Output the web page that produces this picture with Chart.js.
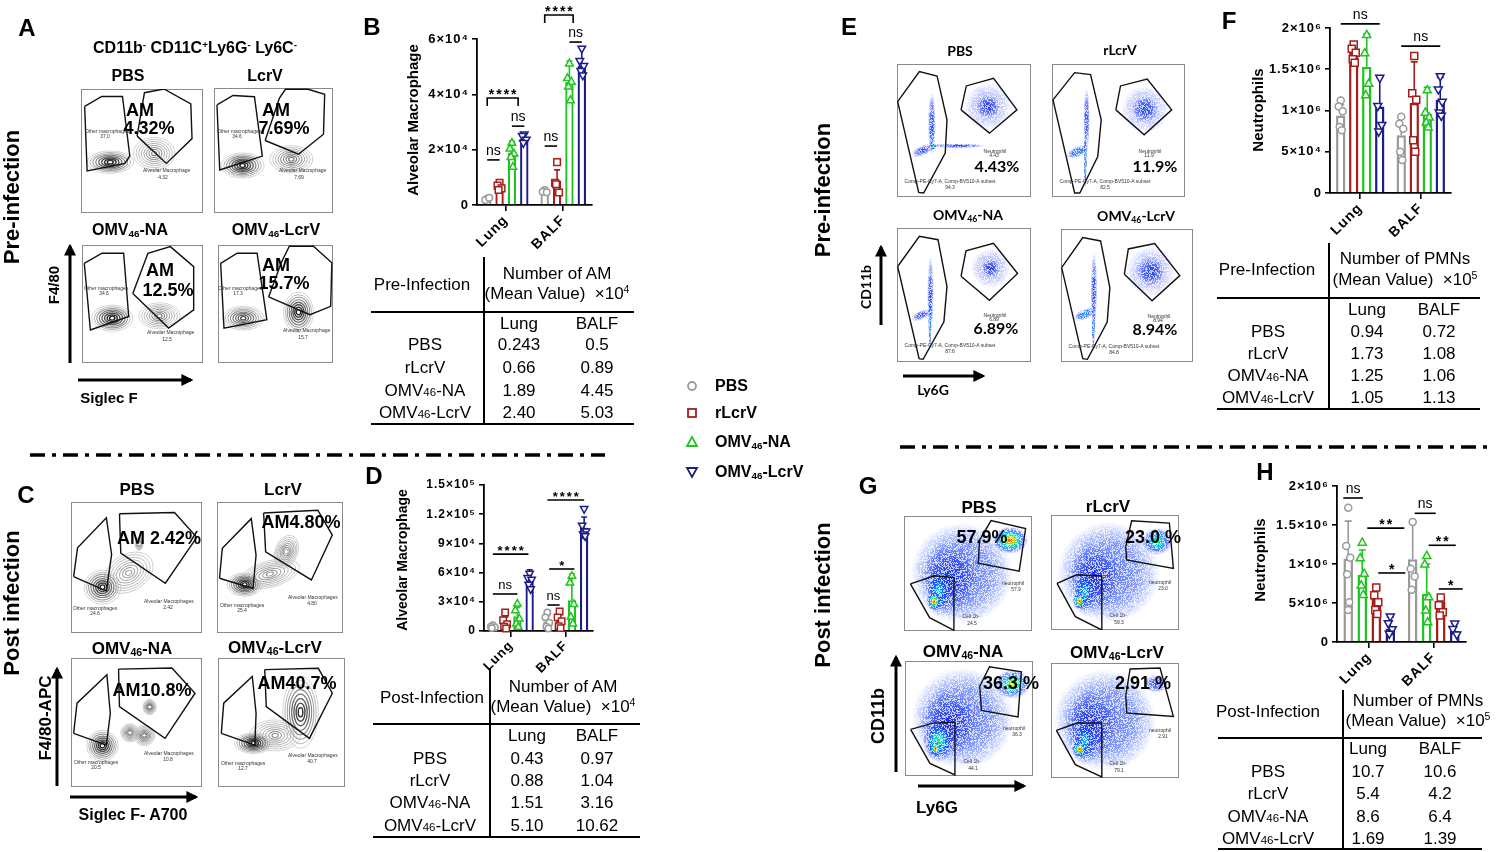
<!DOCTYPE html>
<html><head><meta charset="utf-8">
<script src="https://cdn.jsdelivr.net/npm/chart.js@4.4.1/dist/chart.umd.min.js"></script>
<style>
html,body{margin:0;padding:0}
body{width:1500px;height:852px;position:relative;overflow:hidden;background:#fff;font-family:"Liberation Sans",Arial,Helvetica,sans-serif;color:#000}
.t{position:absolute;white-space:nowrap;line-height:1;transform:translate(-50%,-50%)}
.tl{position:absolute;white-space:nowrap;line-height:1;transform:translate(0,-50%)}
.rot{position:absolute;white-space:nowrap;line-height:1;transform:translate(-50%,-50%) rotate(-90deg)}
canvas{position:absolute}
.box{position:absolute;border:1px solid #8a8a8a;box-sizing:border-box}
.hl{position:absolute;background:#000}
sub{font-size:0.62em;vertical-align:-0.25em;line-height:0}
sup{font-size:0.62em;vertical-align:0.5em;line-height:0}
.sm{font-size:0.68em}
</style></head><body>
<svg id="deco" width="1500" height="852" style="position:absolute;left:0;top:0;z-index:5;pointer-events:none">
<defs><marker id="ah" markerWidth="4" markerHeight="4" refX="3.2" refY="2" orient="auto"><path d="M0,0 L4,2 L0,4 z" fill="#000"/></marker></defs>
<g stroke="#000" stroke-width="3">
<line x1="70" y1="363" x2="70" y2="246" marker-end="url(#ah)"/>
<line x1="78" y1="380" x2="191" y2="380" marker-end="url(#ah)"/>
<line x1="57" y1="786" x2="57" y2="669" marker-end="url(#ah)"/>
<line x1="70" y1="797" x2="196" y2="797" marker-end="url(#ah)"/>
<line x1="881" y1="325" x2="881" y2="247" marker-end="url(#ah)"/>
<line x1="903" y1="376" x2="983" y2="376" marker-end="url(#ah)"/>
<line x1="896" y1="772" x2="896" y2="657" marker-end="url(#ah)"/>
<line x1="918" y1="786" x2="1024" y2="786" marker-end="url(#ah)"/>
</g>
<line x1="30" y1="455" x2="605" y2="455" stroke="#000" stroke-width="3.5" stroke-dasharray="15 7 4 7"/>
<line x1="900" y1="447" x2="1490" y2="447" stroke="#000" stroke-width="3.5" stroke-dasharray="15 7 4 7"/>
<g fill="#fff" stroke-width="1.8">
<circle cx="692" cy="386" r="4" stroke="#9a9a9a"/>
<rect x="688" y="409" width="8" height="8" stroke="#a81c1c"/>
<path d="M692,437 L697,446 L687,446 Z" stroke="#1fc41f"/>
<path d="M692,477 L697,468 L687,468 Z" stroke="#1c1c8a"/>
</g>
</svg>
<script>
const FF = '"Liberation Sans", Arial, sans-serif';
const GROUPS = ['PBS','rLcrV','OMV46-NA','OMV46-LcrV'];
const GROUP_HTML = ['PBS','rLcrV','OMV<sub>46</sub>-NA','OMV<sub>46</sub>-LcrV'];
const GROUP_TAB = ['PBS','rLcrV','OMV<span class="sm">46</span>-NA','OMV<span class="sm">46</span>-LcrV'];
const TISSUES = ['Lung','BALF'];
const COLORS = ['#9a9a9a','#a81c1c','#1fc41f','#1c1c8a'];

// ---------- Panel B (pre-infection AM), per group: [Lung, BALF]
const bMean = [[2430,5000],[6600,8900],[18900,44500],[24000,50300]];
const bSD   = [[300,500],[1500,3800],[4200,7500],[1700,6500]];
const bPts  = [
  [[2200,1800,2600],[5400,4800,4600]],
  [[8000,7000,6000,5400],[15500,8000,4500,7500]],
  [[22600,20500,18700,17500,13900],[51300,46000,44700,42900,38000]],
  [[25400,24800,23500,22300],[56400,51900,50100,48300,46700]]
];
const bTicks = [0,20000,40000,60000];
const bTickLab = ['0','2×10⁴','4×10⁴','6×10⁴'];
const bSig = [[0,0,1,16300,'ns',0],[0,0,2.5,38700,'****',1],[0,2,3,28500,'ns',0],[1,0,1,21300,'ns',0],[1,0,2.3,68700,'****',1],[1,2,3,58900,'ns',0]];

// ---------- Panel D (post-infection AM)
const dMean = [[4300,9700],[8800,10400],[15100,31600],[51000,106200]];
const dSD   = [[1500,6000],[5500,6500],[9000,27000],[12000,11000]];
const dPts  = [
  [[6000,4500,3700,3000],[19000,14000,8500,4500,2500]],
  [[19000,11000,7000,4500,2500],[20000,14000,10000,5000,3000]],
  [[28400,21600,13000,7900,4500],[57000,50000,28000,15000,8000]],
  [[58600,54100,52400,47300,42600],[125000,108000,102000,99000,97000]]
];
const dTicks = [0,30000,60000,90000,120000,150000];
const dTickLab = ['0','3×10⁴','6×10⁴','9×10⁴','1.2×10⁵','1.5×10⁵'];
const dSig = [[0,0,2,38000,'ns',0],[0,0,2.9,79000,'****',0],[1,0,1,26700,'ns',0],[1,0.15,2.2,63700,'*',0],[1,0,3,134600,'****',0]];

// ---------- Panel F (pre-infection neutrophils)
const fMean = [[940000,700000],[1700000,1090000],[1530000,960000],[1050000,1130000]];
const fSD   = [[130000,230000],[120000,500000],[400000,320000],[350000,270000]];
const fPts  = [
  [[1120000,1050000,990000,800000,760000],[925000,840000,780000,500000,400000]],
  [[1800000,1750000,1700000,1620000,1580000],[1660000,1210000,1130000,640000,500000]],
  [[1920000,1700000,1330000,1190000],[1250000,980000,920000,860000,800000]],
  [[1390000,1050000,820000,740000],[1410000,1250000,1100000,970000,930000]]
];
const fTicks = [0,500000,1000000,1500000,2000000];
const fTickLab = ['0','5×10⁴','1×10⁶','1.5×10⁶','2×10⁶'];
const fSig = [[0,0,3,2050000,'ns',0],[1,0,3,1780000,'ns',0]];

// ---------- Panel H (post-infection neutrophils), drawn order PBS, OMV-NA, rLcrV, OMV-LcrV
const hMean = [[1070000,1060000],[560000,520000],[860000,620000],[170000,140000]];
const hSD   = [[480000,480000],[140000,60000],[320000,380000],[150000,95000]];
const hPts  = [
  [[1720000,1230000,1080000,870000,510000,410000],[1540000,940000,840000,670000]],
  [[700000,600000,510000,410000,360000],[570000,470000,380000,340000]],
  [[1280000,1080000,880000,730000,610000],[1110000,1000000,580000,410000,260000]],
  [[320000,235000,158000,100000],[230000,160000,90000]]
];
const hOrder = [0,2,1,3];
const hTicks = [0,500000,1000000,1500000,2000000];
const hTickLab = ['0','5×10⁶','1×10⁶','1.5×10⁶','2×10⁶'];
const hSig = [[0,-0.35,1.05,1846000,'ns',0],[0,1.36,4.0,1460000,'**',0],[0,2.14,4.07,885000,'*',0],[1,0.14,1.64,1650000,'ns',0],[1,1.14,3.07,1240000,'**',0],[1,1.86,3.57,680000,'*',0]];

// ---------- Tables (mean values)
const bTable = [['0.243','0.5'],['0.66','0.89'],['1.89','4.45'],['2.40','5.03']];
const dTable = [['0.43','0.97'],['0.88','1.04'],['1.51','3.16'],['5.10','10.62']];
const fTable = [['0.94','0.72'],['1.73','1.08'],['1.25','1.06'],['1.05','1.13']];
const hTable = [['10.7','10.6'],['5.4','4.2'],['8.6','6.4'],['1.69','1.39']];

// ---------- Flow gates (relative 0-100 units) and populations
const aGates = [
 [[[3,86],[17,94],[34,94],[40,46],[36,40],[5,34]], [[46,62],[52,97],[68,100],[90,88],[91,60],[70,40]]],
 [[[2.5,86.5],[16,94],[34,93],[40.6,45.5],[4.8,34.4]], [[43,58],[55,92],[60,99],[79,99],[93,95],[92,63],[71,47]]],
 [[[1.9,84.5],[16.5,93],[34.4,93],[38.6,39.4],[6.9,28]], [[42,59],[54.5,93],[73,98.6],[92.3,81.7],[92.3,45],[71.6,29.6]]],
 [[[2.3,84.5],[16.7,93],[34,93],[42.5,36.6],[5.2,29.6]], [[44,56],[55,85],[62,99],[83,99],[99,85],[98,48],[80,41]]]
];
const aBlobs = [
 [[60,48,17,13,0.35,0],[24,41,19,9,0.95,0]],
 [[65,43,18,11,0.45,0],[24,38,18,10,1,0]],
 [[64,40,17,11,0.4,0],[25,38,17,11,1,0]],
 [[22,38,18,10,0.7,0],[70,43,13,17,1,0]]
];
const aPct = ['4.32%','7.69%','12.5%','15.7%'];
const aOther = ['37.0','34.6','34.6','17.3'];

const cGates = [
 [[[2,43],[5,65],[27,88],[31,60],[27,32]], [[37,91],[79,92],[96,73],[72,38],[38,61]]],
 [[[2,41.8],[4.2,64.6],[27.2,87.3],[31,59.5],[28.6,34]], [[37,91.6],[80,93.7],[91.5,74.7],[74.9,40.5],[38.6,62]]],
 [[[2,41.6],[4.6,65],[27.4,87],[30,57],[27,32.5]], [[36.3,91.4],[77,92.2],[94.7,72.7],[71.8,37.7],[37,62.3]]],
 [[[2.6,41.6],[4.5,65],[27,85.7],[30,57],[29,32.5]], [[36.8,91],[79,92],[90,72.7],[72,37.7],[38,62.3]]]
];
const cBlobs = [
 [[44,46,20,14,0.2,-30],[52,68,3,5,0.3,0],[24,35,14,13,0.95,0]],
 [[42,45,24,10,0.25,-15],[55,62,9,13,0.3,20],[22,37,14,9,1,0]],
 [[45,42,7,7,0.4,0],[56,40,8,8,0.45,0],[60,62,5,6,0.45,0],[24,32,12,12,1,0]],
 [[45,40,20,12,0.3,0],[65,58,14,28,0.85,0],[28,34,15,8,1,0]]
];
const cPct = ['AM 2.42%','AM4.80%','AM10.8%','AM40.7%'];
const cOther = ['24.6','25.4','20.5','12.7'];

const eGates = [
 [[[0.5,71.75],[16.7,94.25],[29.9,91],[37.3,58],[36,33],[19.9,3],[16.2,3.5]], [[47.8,65.5],[51.7,83.5],[72.1,89.25],[89.5,65.5],[69,48]]],
 [[[0.75,73],[17,93.5],[29,92],[37,58],[34.4,30.5],[20.9,3],[17,3]], [[48,65.5],[51.5,83.5],[71.6,88.75],[90,65.5],[69.3,46.75]]],
 [[[0.5,71.25],[16.7,93.75],[30.6,91.25],[37.3,56.25],[35,30],[19.5,2],[16.5,2.5]], [[47.8,64],[51.5,83],[72,88.5],[90,66],[69,46]]],
 [[[0.5,71],[16.5,93.5],[30,91],[37,56],[35,30],[20,2],[16.5,2.5]], [[48,66],[51,85],[71,89],[90,65],[69,46]]]
];
const eBlobs = [
 [[68,68,18,18,'sparse',0],[68,68,9,9,'blue',0],[26,55,3,24,'blue',0],[45,38.5,22,1.8,'blue',0],[19,35,9,4,'blue',-25],[26,48,1.5,14,'cyan',0],[27,38,2.5,2.5,'green',0]],
 [[70,66,18,18,'sparse',0],[70,66,10,10,'blue',0],[70,66,3,3,'cyan',0],[26,58,2.5,24,'blue',0],[19,34,9,4,'cyan',-25],[25,28,1.3,22,'green',0]],
 [[70,70,15,15,'sparse',0],[70,70,7,7,'blue',0],[25,50,2.5,30,'blue',0],[18,35,8,3.5,'blue',-25],[24.5,30,1.2,22,'green',0]],
 [[68,68,19,19,'sparse',0],[68,68,11,11,'blue',0],[68,68,3,3,'cyan',0],[25,55,2.5,28,'blue',0],[18,36,9,4,'cyan',-25],[24.5,30,1.3,22,'green',0]]
];
const ePct = ['4.43%','11.9%','6.89%','8.94%'];
const eSub = ['94.3','82.5','87.6','84.8'];

const gGates = [
 [[[59,79],[68,96],[95,89],[90,52],[58,59]], [[5,41],[24,48],[39,46.5],[39,0.6],[20,11.6]]],
 [[[58.4,72.5],[63,95],[92.5,93],[95.6,53.6],[59,61]], [[4.7,40.6],[20,48],[39.7,47],[39.7,0],[19,11.6]]],
 [[[58.4,78],[66,95],[90.9,90.5],[88.3,51.4],[59.7,57]], [[4.4,40.5],[22,46],[39,47],[39,0.9],[19.5,11]]],
 [[[58.4,71.6],[61.8,94.8],[85.2,95.6],[95.6,53.6],[59.2,56.5]], [[4.2,41.4],[20.3,47.8],[39.7,47.8],[39.7,0.9],[19,11.6]]]
];
const gBlobs = [
 [[45,50,40,44,'cloud',0],[35,45,22,32,'blue',0],[27,35,10,22,'cyan',0],[23.5,26,6,8,'hot',0],[83,79,14,12,'hot',0]],
 [[45,50,40,44,'cloud',0],[33,45,20,30,'blue',0],[26,33,9,20,'cyan',0],[22,25,5,7,'hot',0],[83,77,12,12,'green',0]],
 [[45,50,40,44,'cloud',0],[33,45,22,30,'blue',0],[26,30,12,18,'green',0],[24,24,5,7,'hot',0],[84,80,14,13,'yellow',0]],
 [[42,50,40,44,'cloud',0],[30,45,20,32,'blue',0],[26,32,10,20,'cyan',0],[22.3,25,6,7,'hot',0],[82,82,10,8,'blue',0]]
];
const gPct = ['57.9%','23.0 %','36.3 %','2.91 %'];
const gCell = ['24.5','59.3','44.1','79.1'];

// ---------- Layout (positions / sizes)
const LAY = {
  B:{left:397,top:0,w:205,h:250,pt:39,pr:10,wy:80,hx:45,catPct:0.86,barPct:0.68,yfs:13,xfs:14,sfs:14,mr:3.3,cap:3,bw:2.3},
  D:{left:404,top:440,w:199,h:236,pt:45,pr:10,wy:80,hx:45,catPct:0.9,barPct:0.68,yfs:12,xfs:13,sfs:13,mr:3.2,cap:3,bw:2.3},
  F:{left:1250,top:0,w:216,h:238,pt:28,pr:15,wy:80,hx:45,catPct:0.86,barPct:0.72,yfs:13,xfs:14,sfs:14,mr:3.5,cap:3.5,bw:2.5},
  H:{left:1257,top:460,w:224,h:227,pt:26,pr:15,wy:80,hx:45,catPct:0.87,barPct:0.68,yfs:13,xfs:14,sfs:14,mr:3.5,cap:3.5,bw:2.5}
};
const aBox = [[81,89,122,124],[214,88,119,125],[82,245,121,118],[218,245,115,118]];
const cBox = [[71,502,131,131],[217,502,126,131],[71,658,131,129],[218,658,127,129]];
const eBox = [[897,64,134,133],[1052,64,133,133],[897,228,134,134],[1061,229,132,133]];
const gBox = [[904,516,128,115],[1051,515,128,115],[905,661,128,115],[1051,663,128,115]];

// ---------- helpers
function T(x, y, html, css, cls) {
  const d = document.createElement('div');
  d.className = cls || 't'; d.style.left = x + 'px'; d.style.top = y + 'px';
  d.innerHTML = html; if (css) d.style.cssText += css; d.style.zIndex = 6;
  document.body.appendChild(d); return d;
}
function HL(x, y, w, h) {
  const d = document.createElement('div'); d.className = 'hl';
  d.style.cssText += `left:${x}px;top:${y}px;width:${w}px;height:${h}px`;
  document.body.appendChild(d);
}
const JIT = [0,-2,2,-1,1,0];
function marker(ctx, g, x, y, r) {
  ctx.beginPath();
  if (g === 0) ctx.arc(x, y, r, 0, Math.PI * 2);
  else if (g === 1) ctx.rect(x - r, y - r, 2 * r, 2 * r);
  else if (g === 2) { ctx.moveTo(x, y - r * 1.2); ctx.lineTo(x + r * 1.15, y + r * 0.85); ctx.lineTo(x - r * 1.15, y + r * 0.85); ctx.closePath(); }
  else { ctx.moveTo(x, y + r * 1.2); ctx.lineTo(x + r * 1.15, y - r * 0.85); ctx.lineTo(x - r * 1.15, y - r * 0.85); ctx.closePath(); }
  ctx.fillStyle = '#fff'; ctx.fill();
  ctx.strokeStyle = COLORS[g]; ctx.lineWidth = 1.5; ctx.stroke();
}

function makeBar(L, means, sds, pts, order, ticks, tickLab, sig) {
  const cv = document.createElement('canvas');
  cv.width = L.w; cv.height = L.h; cv.style.left = L.left + 'px'; cv.style.top = L.top + 'px';
  document.body.appendChild(cv);
  const ds = order.map(g => ({ label: GROUPS[g], data: means[g], backgroundColor: '#ffffff', borderColor: COLORS[g], borderWidth: L.bw, barPercentage: L.barPct, categoryPercentage: L.catPct }));
  const xAt = (chart, t, idx) => { const a = chart.getDatasetMeta(0).data[t].x, b = chart.getDatasetMeta(1).data[t].x; return a + idx * (b - a); };
  const plug = {
    id: 'extras',
    beforeDraw(chart) { chart.ctx.letterSpacing = '1px'; },
    afterDatasetsDraw(chart) {
      const ctx = chart.ctx, ys = chart.scales.y;
      ctx.save();
      order.forEach((g, i) => {
        chart.getDatasetMeta(i).data.forEach((bar, t) => {
          const x = bar.x, ym = ys.getPixelForValue(means[g][t]), yt = ys.getPixelForValue(means[g][t] + sds[g][t]);
          ctx.strokeStyle = COLORS[g]; ctx.lineWidth = 1.6;
          ctx.beginPath(); ctx.moveTo(x, ym); ctx.lineTo(x, yt); ctx.moveTo(x - L.cap, yt); ctx.lineTo(x + L.cap, yt); ctx.stroke();
          pts[g][t].forEach((v, k) => marker(ctx, g, x + JIT[k % JIT.length], ys.getPixelForValue(v), L.mr));
        });
      });
      ctx.restore();
    },
    afterDraw(chart) {
      const ctx = chart.ctx, ys = chart.scales.y;
      ctx.save(); ctx.strokeStyle = '#000'; ctx.fillStyle = '#000'; ctx.lineWidth = 1.6; ctx.textAlign = 'center'; ctx.textBaseline = 'alphabetic';
      sig.forEach(([t, a, b, v, txt, br]) => {
        const x1 = xAt(chart, t, a), x2 = xAt(chart, t, b), y = ys.getPixelForValue(v);
        ctx.beginPath();
        if (br) { ctx.moveTo(x1, y + 8); ctx.lineTo(x1, y); ctx.lineTo(x2, y); ctx.lineTo(x2, y + 8); }
        else { ctx.moveTo(x1, y); ctx.lineTo(x2, y); }
        ctx.stroke();
        const star = txt.indexOf('*') >= 0;
        ctx.font = (star ? 'bold ' : '') + L.sfs + 'px ' + FF;
        ctx.letterSpacing = star ? '2px' : '0px';
        ctx.fillText(txt, (x1 + x2) / 2 + (star ? 1 : 0), star ? y + 1 : y - 5);
      });
      ctx.restore();
    }
  };
  new Chart(cv, {
    type: 'bar', data: { labels: TISSUES, datasets: ds }, plugins: [plug],
    options: {
      responsive: false, animation: false, events: [],
      layout: { padding: { top: L.pt, right: L.pr, left: 0, bottom: 0 } },
      plugins: { legend: { display: false }, tooltip: { enabled: false } },
      scales: {
        x: { grid: { display: true, offset: false, drawOnChartArea: false, drawTicks: true, tickLength: 6, color: '#000', lineWidth: 1.6 },
             border: { display: true, color: '#000', width: 1.8 },
             ticks: { autoSkip: false, maxRotation: 45, minRotation: 45, color: '#000', padding: 1, font: { family: FF, size: L.xfs, weight: 'bold' } },
             afterFit(s) { s.height = L.hx; } },
        y: { min: 0, max: ticks[ticks.length - 1],
             afterBuildTicks(s) { s.ticks = ticks.map(v => ({ value: v })); },
             grid: { display: true, drawOnChartArea: false, drawTicks: true, tickLength: 5, color: '#000', lineWidth: 1.6 },
             border: { display: true, color: '#000', width: 1.8 },
             ticks: { color: '#000', padding: 3, font: { family: FF, size: L.yfs, weight: 'bold' }, callback: (v, i) => tickLab[i] },
             afterFit(s) { s.width = L.wy; } }
      }
    }
  });
}

const STOPS = {
  sparse: [[0,'rgba(40,60,255,0.45)'],[0.7,'rgba(60,80,255,0.25)'],[1,'rgba(80,100,255,0)']],
  cloud:  [[0,'rgba(30,60,255,0.75)'],[0.6,'rgba(40,80,255,0.55)'],[0.85,'rgba(60,100,255,0.25)'],[1,'rgba(80,110,255,0)']],
  blue:   [[0,'rgba(10,30,220,0.9)'],[0.6,'rgba(30,60,250,0.55)'],[1,'rgba(60,90,255,0)']],
  cyan:   [[0,'rgba(0,210,255,1)'],[0.45,'rgba(20,80,255,0.8)'],[1,'rgba(40,80,255,0)']],
  green:  [[0,'rgba(40,230,60,1)'],[0.3,'rgba(0,210,230,0.95)'],[0.65,'rgba(20,70,255,0.7)'],[1,'rgba(40,80,255,0)']],
  yellow: [[0,'rgba(255,230,0,1)'],[0.2,'rgba(120,230,40,1)'],[0.4,'rgba(0,210,230,0.9)'],[0.7,'rgba(20,70,255,0.6)'],[1,'rgba(40,80,255,0)']],
  hot:    [[0,'rgba(235,20,0,1)'],[0.18,'rgba(255,200,0,1)'],[0.35,'rgba(80,230,60,1)'],[0.5,'rgba(0,200,240,0.95)'],[0.75,'rgba(20,60,255,0.6)'],[1,'rgba(40,80,255,0)']]
};
function contour(ctx, cx, cy, rx, ry, dark, rot) {
  const n = 8; ctx.save(); ctx.translate(cx, cy); ctx.rotate(rot * Math.PI / 180);
  for (let k = n; k >= 1; k--) {
    const f = k / n, inner = 175 * (1 - dark), sh = Math.round(inner + (200 - inner) * f);
    ctx.beginPath(); ctx.ellipse(0, 0, rx * f, ry * f, 0, 0, Math.PI * 2);
    ctx.strokeStyle = `rgb(${sh},${sh},${sh})`; ctx.lineWidth = 0.8 + dark * 1.0 * (1 - f); ctx.stroke();
  }
  ctx.beginPath(); ctx.ellipse(0, 0, Math.max(1.5, rx * 0.08), Math.max(1.2, ry * 0.1), 0, 0, Math.PI * 2);
  ctx.fillStyle = '#fff'; ctx.fill(); ctx.restore();
}
function density(ctx, cx, cy, rx, ry, kind, rot) {
  ctx.save(); ctx.translate(cx, cy); ctx.rotate(rot * Math.PI / 180); ctx.scale(Math.max(rx, 0.5), Math.max(ry, 0.5));
  const gr = ctx.createRadialGradient(0, 0, 0, 0, 0, 1);
  STOPS[kind].forEach(([o, c]) => gr.addColorStop(o, c));
  ctx.fillStyle = gr; ctx.beginPath(); ctx.arc(0, 0, 1, 0, Math.PI * 2); ctx.fill(); ctx.restore();
}
function makeFlow(box, gates, blobs, mode) {
  const [L, Tp, W, H] = box;
  const fr = document.createElement('div'); fr.className = 'box';
  fr.style.cssText += `left:${L}px;top:${Tp}px;width:${W}px;height:${H}px`;
  document.body.appendChild(fr);
  const cv = document.createElement('canvas'); cv.width = W; cv.height = H;
  cv.style.left = L + 'px'; cv.style.top = Tp + 'px';
  document.body.appendChild(cv);
  const plug = { id: 'pop', beforeDatasetsDraw(chart) {
    const ctx = chart.ctx, xs = chart.scales.x, ys = chart.scales.y;
    ctx.save();
    blobs.forEach(b => {
      const cx = xs.getPixelForValue(b[0]), cy = ys.getPixelForValue(b[1]);
      const rx = xs.getPixelForValue(b[0] + b[2]) - cx, ry = cy - ys.getPixelForValue(b[1] + b[3]);
      if (mode === 'contour') contour(ctx, cx, cy, rx, ry, b[4], b[5]); else density(ctx, cx, cy, rx, ry, b[4], b[5]);
    });
    if (mode !== 'contour') {
      // speckle texture (styling only): knock out a fixed dither pattern
      ctx.globalCompositeOperation = 'destination-out'; ctx.fillStyle = 'rgba(0,0,0,0.7)';
      for (let i = 0; i < W; i++) for (let j = 0; j < H; j++) {
        const h = ((i * 374761393 + j * 668265263) ^ (i * j * 2246822519)) >>> 0;
        if ((h % 100) < 42) ctx.fillRect(i, j, 1, 1);
      }
      ctx.globalCompositeOperation = 'source-over';
    }
    ctx.restore();
  } };
  new Chart(cv, {
    type: 'scatter',
    data: { datasets: gates.map(g => ({ type: 'line', data: g.concat([g[0]]).map(([x, y]) => ({ x, y })), borderColor: '#111', borderWidth: 1.4, pointRadius: 0, fill: false, tension: 0, clip: false })) },
    plugins: [plug],
    options: { responsive: false, animation: false, events: [], layout: { padding: 0 },
      plugins: { legend: { display: false }, tooltip: { enabled: false } },
      scales: { x: { type: 'linear', min: 0, max: 100, display: false }, y: { type: 'linear', min: 0, max: 100, display: false } } }
  });
}
function table(s, rows) {
  HL(s.vx, s.vy1, 1.5, s.vy2 - s.vy1);
  HL(s.x1, s.hy, s.x2 - s.x1, 2);
  HL(s.x1, s.by, s.x2 - s.x1, 2);
  const st = 'font-size:17px;';
  T(s.titleX, s.titleY, s.head, st);
  T(s.numX, s.numY1, s.unit, st);
  T(s.numX, s.numY2, '(Mean Value)&nbsp; ×10<sup>' + s.exp + '</sup>', st);
  T(s.lungX, s.rowY[0], 'Lung', st); T(s.balfX, s.rowY[0], 'BALF', st);
  rows.forEach((r, i) => {
    T(s.labX, s.rowY[i + 1], GROUP_TAB[i], st);
    T(s.lungX, s.rowY[i + 1], r[0], st); T(s.balfX, s.rowY[i + 1], r[1], st);
  });
}

// ---------- build charts
makeBar(LAY.B, bMean, bSD, bPts, [0,1,2,3], bTicks, bTickLab, bSig);
makeBar(LAY.D, dMean, dSD, dPts, [0,1,2,3], dTicks, dTickLab, dSig);
makeBar(LAY.F, fMean, fSD, fPts, [0,1,2,3], fTicks, fTickLab, fSig);
makeBar(LAY.H, hMean, hSD, hPts, hOrder, hTicks, hTickLab, hSig);
for (let i = 0; i < 4; i++) {
  makeFlow(aBox[i], aGates[i], aBlobs[i], 'contour');
  makeFlow(cBox[i], cGates[i], cBlobs[i], 'contour');
  makeFlow(eBox[i], eGates[i], eBlobs[i], 'density');
  makeFlow(gBox[i], gGates[i], gBlobs[i], 'density');
}

// ---------- texts
const LET = 'font-weight:bold;font-size:24px;';
T(27,28,'A',LET); T(372,27,'B',LET); T(26,495,'C',LET); T(374,476,'D',LET);
T(849,27,'E',LET); T(1229,21,'F',LET); T(868,486,'G',LET); T(1265,472,'H',LET);
const SIDE = 'font-weight:bold;font-size:22px;';
T(12,197,'Pre-infection',SIDE,'rot'); T(12,603,'Post infection',SIDE,'rot');
T(823,190,'Pre-infection',SIDE,'rot'); T(823,595,'Post infection',SIDE,'rot');
T(195,48,'CD11b<sup>-</sup> CD11C<sup>+</sup>Ly6G<sup>-</sup> Ly6C<sup>-</sup>','font-weight:bold;font-size:16px;');

// axis titles of bar charts
T(412,120,'Alveolar Macrophage','font-weight:bold;font-size:15px;','rot');
T(402,560,'Alveolar Macrophage','font-weight:bold;font-size:14px;','rot');
T(1257,110,'Neutrophils','font-weight:bold;font-size:15px;','rot');
T(1259,560,'Neutrophils','font-weight:bold;font-size:15px;','rot');

// flow titles
const aTitle = ['PBS','LcrV','OMV<sub>46</sub>-NA','OMV<sub>46</sub>-LcrV'];
const eTitle = ['PBS','rLcrV','OMV<sub>46</sub>-NA','OMV<sub>46</sub>-LcrV'];
const aTP = [[128,76],[265,76],[130,230],[276,230]];
const cTP = [[137,489],[283,489],[132,648],[275,647]];
const eTP = [[960,51],[1120,50],[968,215],[1136,216]];
const gTP = [[979,507],[1108,506],[963,651],[1117,652]];
const FT = 'font-weight:bold;font-size:16px;';
const ET = 'font-weight:bold;font-size:14px;font-family:Lato,"Liberation Sans",sans-serif;';
for (let i = 0; i < 4; i++) {
  T(aTP[i][0], aTP[i][1], aTitle[i], FT);
  T(cTP[i][0], cTP[i][1], aTitle[i], 'font-weight:bold;font-size:17px;');
  T(eTP[i][0], eTP[i][1], eTitle[i], ET);
  T(gTP[i][0], gTP[i][1], eTitle[i], 'font-weight:bold;font-size:17px;');
}
// flow percent labels
const PL = 'font-weight:bold;font-size:18px;';
const aAMp = [[140,110],[276,110],[160,270],[276,265]];
const aPp = [[149,128],[284,128],[168,290],[284,283]];
const cPp = [[159,538],[301,522],[152,690],[297,683]];
const ePp = [[997,166],[1155,166],[996,328],[1155,329]];
const gPp = [[982,537],[1153,537],[1011,683],[1143,683]];
for (let i = 0; i < 4; i++) {
  T(aAMp[i][0], aAMp[i][1], 'AM', PL); T(aPp[i][0], aPp[i][1], aPct[i], PL);
  T(cPp[i][0], cPp[i][1], cPct[i], PL);
  T(ePp[i][0], ePp[i][1], ePct[i], 'font-weight:bold;font-size:16px;font-family:Lato,"Liberation Sans",sans-serif;');
  T(gPp[i][0], gPp[i][1], gPct[i], PL);
}
// tiny gate labels
const TN = 'font-size:5px;color:#333;';
const aOl = [[85,131],[217,131],[84,288],[218,288]], aAl = [[143,170],[279,170],[147,332],[283,330]];
const cOl = [[73,608],[220,605],[74,762],[221,763]], cAl = [[144,601],[288,597],[144,753],[288,755]];
const cAMv = ['2.42','4.80','10.8','40.7'];
for (let i = 0; i < 4; i++) {
  T(aOl[i][0], aOl[i][1], 'Other macrophages', TN, 'tl'); T(aOl[i][0] + 20, aOl[i][1] + 5, aOther[i], TN);
  T(aAl[i][0], aAl[i][1], 'Alveolar Macrophage', TN, 'tl'); T(aAl[i][0] + 20, aAl[i][1] + 7, aPct[i].replace('%',''), TN);
  T(cOl[i][0], cOl[i][1], 'Other macrophages', TN, 'tl'); T(cOl[i][0] + 22, cOl[i][1] + 5, cOther[i], TN);
  T(cAl[i][0], cAl[i][1], 'Alveolar Macrophages', TN, 'tl'); T(cAl[i][0] + 24, cAl[i][1] + 6, cAMv[i], TN);
  const eb = eBox[i];
  T(eb[0] + 98, eb[1] + 87, 'Neutrophil', TN); T(eb[0] + 97, eb[1] + 91, ePct[i].replace('%',''), TN);
  T(eb[0] + 53, eb[1] + 117, 'Comp-PE-Cy7-A, Comp-BV510-A subset', TN); T(eb[0] + 53, eb[1] + 123, eSub[i], TN);
  const gb = gBox[i];
  T(gb[0] + 109, gb[1] + 67, 'neutrophil', TN); T(gb[0] + 112, gb[1] + 73, gPct[i].replace(' %','').replace('%',''), TN);
  T(gb[0] + 67, gb[1] + 100, 'Cell 1b-', TN); T(gb[0] + 68, gb[1] + 107, gCell[i], TN);
}
// flow axis labels
const AX = 'font-weight:bold;font-size:15px;';
T(53,285,'F4/80',AX,'rot'); T(109,397,'Siglec F',AX);
T(45,718,'F4/80-APC','font-weight:bold;font-size:17px;','rot'); T(133,815,'Siglec F- A700','font-weight:bold;font-size:16px;');
T(866,287,'CD11b',ET,'rot'); T(933,390,'Ly6G',ET);
T(878,716,'CD11b','font-weight:bold;font-size:18px;','rot'); T(937,807,'Ly6G','font-weight:bold;font-size:17px;');

// legend
const LG = 'font-weight:bold;font-size:16px;';
const lgY = [386,413,442,472];
for (let i = 0; i < 4; i++) T(715, lgY[i], GROUP_HTML[i], LG, 'tl');

// tables
table({vx:483,vy1:257,vy2:423,x1:371,x2:634,hy:311,by:423,titleX:422,titleY:284,numX:557,numY1:273,numY2:293,lungX:519,balfX:597,labX:425,rowY:[323,344,367,390,412],head:'Pre-Infection',unit:'Number of AM',exp:'4'}, bTable);
table({vx:489,vy1:668,vy2:836,x1:373,x2:640,hy:723,by:836,titleX:432,titleY:697,numX:563,numY1:686,numY2:706,lungX:527,balfX:597,labX:430,rowY:[735,758,780,802,825],head:'Post-Infection',unit:'Number of AM',exp:'4'}, dTable);
table({vx:1328,vy1:243,vy2:408,x1:1217,x2:1480,hy:297,by:408,titleX:1267,titleY:269,numX:1405,numY1:258,numY2:279,lungX:1367,balfX:1439,labX:1268,rowY:[309,331,353,375,397],head:'Pre-Infection',unit:'Number of PMNs',exp:'5'}, fTable);
table({vx:1342,vy1:690,vy2:848,x1:1218,x2:1482,hy:737,by:848,titleX:1268,titleY:711,numX:1418,numY1:700,numY2:720,lungX:1368,balfX:1440,labX:1268,rowY:[748,771,793,816,838],head:'Post-Infection',unit:'Number of PMNs',exp:'5'}, hTable);
</script>
</body></html>
